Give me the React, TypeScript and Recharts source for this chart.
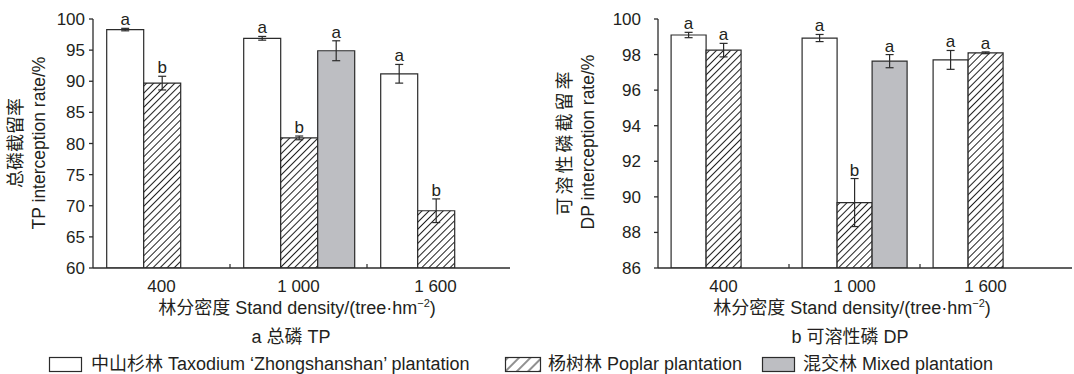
import { BarChart, Bar, XAxis, YAxis, ErrorBar, LabelList } from "recharts";

const FONT = "'Liberation Sans', Arial, 'Noto Sans CJK SC', sans-serif";
const INK = "#231f20";
const EDGE = "#2b2b2b";
const GREY = "#bdbec2";

const densities = ["400", "1 000", "1 600"];

// 总磷 TP
const tpTaxodium = [98.3, 96.9, 91.2];
const tpTaxodiumErr = [0.2, 0.3, 1.5];
const tpTaxodiumSig = ["a", "a", "a"];
const tpPoplar = [89.7, 80.9, 69.2];
const tpPoplarErr = [1.1, 0.3, 1.9];
const tpPoplarSig = ["b", "b", "b"];
const tpMixed = [null, 94.9, null];
const tpMixedErr = [null, 1.6, null];
const tpMixedSig = ["", "a", ""];
const tpTicks = [60, 65, 70, 75, 80, 85, 90, 95, 100];

// 可溶性磷 DP
const dpTaxodium = [99.1, 98.93, 97.7];
const dpTaxodiumErr = [0.15, 0.2, 0.53];
const dpTaxodiumSig = ["a", "a", "a"];
const dpPoplar = [98.25, 89.68, 98.1];
const dpPoplarErr = [0.38, 1.35, 0.05];
const dpPoplarSig = ["a", "b", "a"];
const dpMixed = [null, 97.63, null];
const dpMixedErr = [null, 0.37, null];
const dpMixedSig = ["", "a", ""];
const dpTicks = [86, 88, 90, 92, 94, 96, 98, 100];

function rows(t: any[], te: any[], p: any[], pe: any[], m: any[], me: any[]) {
  return densities.map((name, i) => ({
    name,
    taxodium: t[i],
    taxodiumErr: te[i],
    poplar: p[i],
    poplarErr: pe[i],
    mixed: m[i],
    mixedErr: me[i],
  }));
}

const tpData = rows(tpTaxodium, tpTaxodiumErr, tpPoplar, tpPoplarErr, tpMixed, tpMixedErr);
const dpData = rows(dpTaxodium, dpTaxodiumErr, dpPoplar, dpPoplarErr, dpMixed, dpMixedErr);

// letter sits just above the error bar cap
function sigLabel(values: any[], errs: any[], sigs: string[], min: number) {
  return (p: any) => {
    const v = Number(p.value);
    const i = values.findIndex((x) => x != null && x === v);
    if (i < 0 || !sigs[i]) return null;
    const h = Math.abs(Number(p.height));
    const errPx = ((errs[i] || 0) * h) / (v - min);
    return (
      <text
        key={`sig-${i}`}
        x={Number(p.x) + Number(p.width) / 2}
        y={Math.min(Number(p.y), Number(p.y) + Number(p.height)) - errPx - 3}
        textAnchor="middle"
        fontFamily={FONT}
        fontSize={17}
        fill={INK}
      >
        {sigs[i]}
      </text>
    );
  };
}

function DensityTick(props: any) {
  const { x, y, payload, index } = props;
  const off = payload && payload.offset ? payload.offset : 0;
  return (
    <g>
      {index > 0 && (
        <line x1={x - off} x2={x - off} y1={y} y2={y - 4} stroke={EDGE} strokeWidth={1.2} />
      )}
      <text x={x} y={y + 12} dy="0.71em" textAnchor="middle" fontFamily={FONT} fontSize={17} fill={INK}>
        {payload.value}
      </text>
    </g>
  );
}

function Panel({
  data,
  id,
  width,
  yWidth,
  tickMargin,
  marginRight,
  padRight,
  domain,
  ticks,
  sets,
}: any) {
  const min = domain[0];
  return (
    <BarChart
      width={width}
      height={300}
      data={data}
      margin={{ top: 19, right: marginRight, left: 0, bottom: 0 }}
      barCategoryGap="10%"
      barGap={0}
    >
      <defs>
        <pattern id={id} patternUnits="userSpaceOnUse" width={5} height={5} patternTransform="rotate(45)">
          <rect width={5} height={5} fill="#fff" />
          <line x1={2.5} y1={0} x2={2.5} y2={5} stroke="#222" strokeWidth={1} />
        </pattern>
      </defs>
      <XAxis
        dataKey="name"
        height={32}
        interval={0}
        tickLine={false}
        tickSize={0}
        tickMargin={0}
        padding={{ left: 0, right: padRight }}
        axisLine={{ stroke: EDGE, strokeWidth: 1.3 }}
        tick={<DensityTick />}
      />
      <YAxis
        width={yWidth}
        domain={domain}
        ticks={ticks}
        interval={0}
        allowDataOverflow
        tickSize={4}
        tickMargin={tickMargin}
        axisLine={{ stroke: EDGE, strokeWidth: 1.3 }}
        tickLine={{ stroke: EDGE, strokeWidth: 1.3 }}
        tick={{ fontFamily: FONT, fontSize: 17, fill: INK }}
      />
      <Bar dataKey="taxodium" fill="#fff" stroke={EDGE} strokeWidth={1.2} isAnimationActive={false}>
        <ErrorBar dataKey="taxodiumErr" width={4} stroke={EDGE} strokeWidth={1.2} direction="y" />
        <LabelList dataKey="taxodium" content={sigLabel(sets.t, sets.te, sets.ts, min)} />
      </Bar>
      <Bar dataKey="poplar" fill={`url(#${id})`} stroke={EDGE} strokeWidth={1.2} isAnimationActive={false}>
        <ErrorBar dataKey="poplarErr" width={4} stroke={EDGE} strokeWidth={1.2} direction="y" />
        <LabelList dataKey="poplar" content={sigLabel(sets.p, sets.pe, sets.ps, min)} />
      </Bar>
      <Bar dataKey="mixed" fill={GREY} stroke={EDGE} strokeWidth={1.2} isAnimationActive={false}>
        <ErrorBar dataKey="mixedErr" width={4} stroke={EDGE} strokeWidth={1.2} direction="y" />
        <LabelList dataKey="mixed" content={sigLabel(sets.m, sets.me, sets.ms, min)} />
      </Bar>
    </BarChart>
  );
}

function XTitle({ cx }: { cx: number }) {
  return (
    <text x={cx} y={314} textAnchor="middle" fontFamily={FONT} fontSize={18} fill={INK}>
      林分密度 Stand density/(tree·hm
      <tspan fontSize={11} dy={-7}>−2</tspan>
      <tspan dy={7}>)</tspan>
    </text>
  );
}

function YTitle({ x1, x2, cy, zh, en, spacing }: any) {
  return (
    <g fontFamily={FONT} fill={INK}>
      <text
        transform={`translate(${x1},${cy}) rotate(-90)`}
        textAnchor="middle"
        dominantBaseline="central"
        fontSize={18}
        letterSpacing={spacing}
      >
        {zh}
      </text>
      <text
        transform={`translate(${x2},${cy}) rotate(-90)`}
        textAnchor="middle"
        dominantBaseline="central"
        fontSize={17.5}
      >
        {en}
      </text>
    </g>
  );
}

export default function App() {
  return (
    <div style={{ position: "absolute", left: 0, top: 0, width: 1074, height: 374, background: "#fff" }}>
      <div style={{ position: "absolute", left: 0, top: 0 }}>
        <Panel
          data={tpData}
          id="hatchTP"
          width={530}
          yWidth={93}
          tickMargin={4}
          marginRight={20}
          padRight={6}
          domain={[60, 100]}
          ticks={tpTicks}
          sets={{
            t: tpTaxodium, te: tpTaxodiumErr, ts: tpTaxodiumSig,
            p: tpPoplar, pe: tpPoplarErr, ps: tpPoplarSig,
            m: tpMixed, me: tpMixedErr, ms: tpMixedSig,
          }}
        />
      </div>
      <div style={{ position: "absolute", left: 530, top: 0 }}>
        <Panel
          data={dpData}
          id="hatchDP"
          width={544}
          yWidth={128}
          tickMargin={13}
          marginRight={2}
          padRight={21}
          domain={[86, 100]}
          ticks={dpTicks}
          sets={{
            t: dpTaxodium, te: dpTaxodiumErr, ts: dpTaxodiumSig,
            p: dpPoplar, pe: dpPoplarErr, ps: dpPoplarSig,
            m: dpMixed, me: dpMixedErr, ms: dpMixedSig,
          }}
        />
      </div>
      <svg
        width={1074}
        height={374}
        style={{ position: "absolute", left: 0, top: 0, pointerEvents: "none" }}
      >
        <defs>
          <pattern id="hatchLegend" patternUnits="userSpaceOnUse" width={8} height={8} patternTransform="rotate(45)">
            <rect width={8} height={8} fill="#fff" />
            <line x1={4} y1={0} x2={4} y2={8} stroke="#222" strokeWidth={1} />
          </pattern>
        </defs>
        <YTitle x1={16} x2={39} cy={143} zh="总磷截留率" en="TP interception rate/%" spacing={0} />
        <YTitle x1={565} x2={588} cy={142} zh="可溶性磷截留率" en="DP interception rate/%" spacing={3} />
        <XTitle cx={297} />
        <XTitle cx={852} />
        <g fontFamily={FONT} fontSize={18} fill={INK}>
          <text x={291} y={343} textAnchor="middle">a 总磷 TP</text>
          <text x={850} y={343} textAnchor="middle">b 可溶性磷 DP</text>
          <rect x={49.5} y={357.5} width={32} height={14} fill="#fff" stroke={EDGE} strokeWidth={1.2} />
          <text x={91} y={370}>中山杉林 Taxodium ‘Zhongshanshan’ plantation</text>
          <rect x={505.5} y={357.5} width={35} height={14} fill="url(#hatchLegend)" stroke={EDGE} strokeWidth={1.2} />
          <text x={548} y={370}>杨树林 Poplar plantation</text>
          <rect x={762.5} y={357.5} width={32} height={14} fill={GREY} stroke={EDGE} strokeWidth={1.2} />
          <text x={803} y={370}>混交林 Mixed plantation</text>
        </g>
      </svg>
    </div>
  );
}
